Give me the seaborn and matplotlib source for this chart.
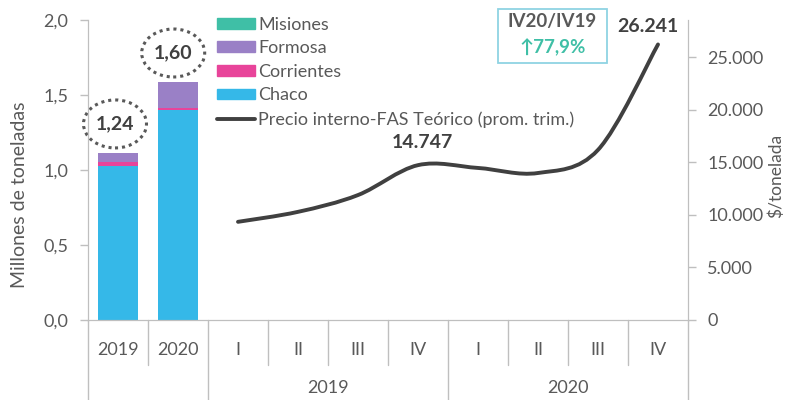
import matplotlib
matplotlib.use("Agg")
import matplotlib.pyplot as plt
import seaborn as sns
import pandas as pd
import numpy as np
from matplotlib.patches import Ellipse, Rectangle, PathPatch, Patch
from matplotlib.path import Path
from matplotlib.lines import Line2D
from matplotlib.ticker import FuncFormatter

# --- data ---
years = ["2019", "2020"]
chaco = [1.03, 1.40]
corrientes = [0.025, 0.013]
formosa = [0.06, 0.175]
misiones = [0.0, 0.0]
total_labels = ["1,24", "1,60"]

quarters = ["I", "II", "III", "IV", "I", "II", "III", "IV"]
quarter_years = ["2019", "2020"]
precio = [9350, 10300, 11900, 14747, 14480, 14000, 16200, 26241]
precio_labels = {3: "14.747", 7: "26.241"}
var_title = "IV20/IV19"
var_value = "\u219177,9%"

c_chaco = "#35b8e8"
c_corr = "#e8449a"
c_form = "#9a80c6"
c_mis = "#3fbfa6"
c_line = "#404040"
c_text = "#595959"
c_axis = "#bfbfbf"
fs = 13

sns.set_style("white")
plt.rcParams["font.family"] = ["Lato", "DejaVu Sans"]

fig = plt.figure(figsize=(7.9, 4), dpi=100)
ax = fig.add_axes([88 / 790, 0.2, 600 / 790, 0.75])
ax2 = ax.twinx()

# stacked bars (cumulative overlap)
bars = pd.DataFrame({"pos": [0, 1], "chaco": chaco, "corr": corrientes,
                     "form": formosa, "mis": misiones})
bars["c1"] = bars["chaco"]
bars["c2"] = bars["c1"] + bars["corr"]
bars["c3"] = bars["c2"] + bars["form"]
bars["c4"] = bars["c3"] + bars["mis"]
for col, colr in [("c4", c_mis), ("c3", c_form), ("c2", c_corr), ("c1", c_chaco)]:
    sns.barplot(data=bars, x="pos", y=col, native_scale=True, color=colr,
                width=0.67, saturation=1, ax=ax, linewidth=0)

ax.set_xlim(-0.5, 9.5)
ax.set_ylim(0, 2.0)
ax.set_yticks(np.arange(0, 2.01, 0.5))
ax.yaxis.set_major_formatter(FuncFormatter(lambda v, p: f"{v:.1f}".replace(".", ",")))
ax.set_xticks([])
ax.set_xlabel("")
ax.set_ylabel("Millones de toneladas", color=c_text, fontsize=fs + 1)
ax.yaxis.set_label_coords(-60 / 600, 0.417)
ax.tick_params(axis="y", colors=c_text, labelsize=fs, length=6, width=1, color=c_axis,
               left=True, direction="out", pad=8)

# smooth price line (bezier through the points)
xs = np.arange(2, 10)
pts = np.column_stack([xs, precio]).astype(float)
ext = np.vstack([pts[0], pts, pts[-1]])
verts = [tuple(pts[0])]
codes = [Path.MOVETO]
for i in range(1, len(ext) - 2):
    p0, p1, p2, p3 = ext[i - 1], ext[i], ext[i + 1], ext[i + 2]
    verts += [tuple(p1 + (p2 - p0) / 6), tuple(p2 - (p3 - p1) / 6), tuple(p2)]
    codes += [Path.CURVE4] * 3
ax2.add_patch(PathPatch(Path(verts, codes), fill=False, edgecolor=c_line, lw=2.8,
                        capstyle="round"))
ax2.set_ylim(0, 28570)
ax2.set_yticks(np.arange(0, 25001, 5000))
ax2.yaxis.set_major_formatter(FuncFormatter(lambda v, p: f"{int(v):,}".replace(",", ".")))
ax2.tick_params(axis="y", colors=c_text, labelsize=fs, length=6, width=1, color=c_axis,
                right=True, direction="out", pad=8)
ax2.set_ylabel("$/tonelada", color=c_text, fontsize=fs - 0.5)
ax2.yaxis.set_label_coords(1 + 80 / 600, 0.48)
ax2.grid(False)
ax.grid(False)

for a in (ax, ax2):
    for s in a.spines.values():
        s.set_color(c_axis)
    a.spines["top"].set_visible(False)

for i, (xo, yy) in zip(precio_labels, [(0.07, 0.59), (-0.17, 0.977)]):
    ax2.text(xs[i] + xo, yy, precio_labels[i], transform=ax2.get_xaxis_transform(),
             ha="center", va="center", fontsize=fs + 1, fontweight="bold", color=c_line)

# dotted ellipses with totals
for cx, cy, lab in [(-0.05, 1.307, total_labels[0]), (0.92, 1.78, total_labels[1])]:
    ax.add_patch(Ellipse((cx, cy), 1.05, 0.32, fill=False, ls=(0, (1, 1.3)),
                         lw=2.2, edgecolor=c_text, clip_on=False))
    ax.text(cx, cy, lab, ha="center", va="center", fontsize=fs + 1, fontweight="bold",
            color=c_line)

# variation box
ax.add_patch(Rectangle((0.683, 0.857), 0.182, 0.18, transform=ax.transAxes, fill=False,
                       edgecolor="#8fd3e3", lw=1.3, clip_on=False))
ax.text(0.774, 0.995, var_title, transform=ax.transAxes, ha="center", va="center",
        fontsize=fs + 0.5, fontweight="bold", color=c_text)
ax.text(0.774, 0.91, var_value, transform=ax.transAxes, ha="center", va="center",
        fontsize=fs + 0.5, fontweight="bold", color=c_mis)

# category axis
xt = ax.get_xaxis_transform()
cat_labels = years + quarters
for i, lab in enumerate(cat_labels):
    ax.text(i, -0.1, lab, transform=xt, ha="center", va="center", fontsize=fs, color=c_text)
for b in np.arange(-0.5, 9.6, 1):
    long = b in (-0.5, 1.5, 5.5, 9.5)
    ax.plot([b, b], [0, -0.27 if long else -0.15], transform=xt, color=c_axis, lw=1,
            clip_on=False)
for j, yl in enumerate(quarter_years):
    ax.text(3.5 + 4 * j, -0.227, yl, transform=xt, ha="center", va="center", fontsize=fs,
            color=c_text)

handles = [Patch(color=c_mis), Patch(color=c_form), Patch(color=c_corr), Patch(color=c_chaco),
           Line2D([], [], color=c_line, lw=2.8)]
names = ["Misiones", "Formosa", "Corrientes", "Chaco", "Precio interno-FAS Teórico (prom. trim.)"]
fig.legend(handles, names, loc="upper left", bbox_to_anchor=(204 / 790, 0.99), frameon=False,
           fontsize=fs, labelcolor=c_text, handlelength=2.1, handleheight=0.55,
           handletextpad=0.2, labelspacing=0.42, borderaxespad=0.3)

fig.savefig("out.png", dpi=100)
